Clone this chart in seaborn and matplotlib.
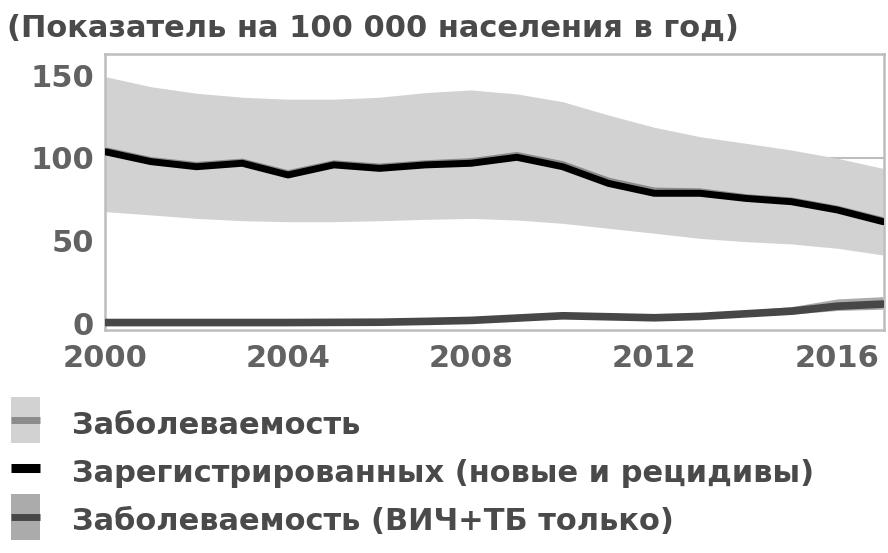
import numpy as np
import pandas as pd
import matplotlib
matplotlib.use("Agg")
import matplotlib.pyplot as plt
from matplotlib.patches import Rectangle
from matplotlib.lines import Line2D
import seaborn as sns

# Rates per 100 000 population per year
years = list(range(2000, 2018))
incidence = [104.5, 98.5, 95.5, 97.5, 90.5, 96.5, 94.5, 96.5, 97.8, 101.5, 96.0, 86.0, 80.0, 79.5, 76.0, 74.0, 69.0, 62.0]
incidence_low = [67.5, 65.5, 63.4, 62.0, 61.4, 61.4, 62.0, 62.8, 63.4, 62.4, 60.4, 57.4, 54.4, 51.3, 49.3, 47.9, 45.3, 41.2]
incidence_high = [149.3, 143.2, 139.2, 136.8, 135.6, 135.6, 136.8, 139.6, 141.2, 138.8, 134.1, 126.0, 118.6, 112.9, 108.9, 104.8, 99.8, 93.7]
notified = [103.8, 97.8, 94.7, 96.8, 89.7, 95.8, 93.7, 95.8, 96.8, 100.4, 94.7, 84.6, 78.6, 78.6, 75.5, 73.5, 68.5, 61.4]
hiv_tb = [0.3, 0.3, 0.3, 0.3, 0.3, 0.4, 0.5, 1.0, 1.6, 3.0, 4.4, 3.8, 3.2, 4.0, 5.6, 7.2, 10.2, 11.5]
hiv_tb_low = [0.1, 0.1, 0.1, 0.1, 0.1, 0.2, 0.3, 0.7, 1.1, 2.2, 3.3, 2.9, 2.4, 3.0, 4.2, 5.4, 7.6, 8.4]
hiv_tb_high = [0.5, 0.5, 0.5, 0.5, 0.5, 0.6, 0.8, 1.4, 2.2, 4.0, 5.8, 5.0, 4.3, 5.4, 7.6, 10.0, 14.6, 16.0]

y_ticks = [0, 50, 100, 150]
x_ticks = [2000, 2004, 2008, 2012, 2016]

title = "(Показатель на 100 000 населения в год)"
legend_labels = [
    "Заболеваемость",
    "Зарегистрированных (новые и рецидивы)",
    "Заболеваемость (ВИЧ+ТБ только)",
]

band_color = "#d2d2d2"
inc_color = "#8c8c8c"
notif_color = "#000000"
hiv_band_color = "#ababab"
hiv_color = "#474747"
text_color = "#4a4a4a"
tick_color = "#626262"
frame_color = "#bdbdbd"

sns.set_theme(style="white")
plt.rcParams["font.family"] = ["DejaVu Sans"]

df = pd.DataFrame({
    "year": years,
    "incidence": incidence,
    "inc_low": incidence_low,
    "inc_high": incidence_high,
    "notified": notified,
    "hiv": hiv_tb,
    "hiv_low": hiv_tb_low,
    "hiv_high": hiv_tb_high,
})

fig = plt.figure(figsize=(8.88, 5.53), dpi=100)
ax = fig.add_axes([0.1182, 0.4033, 0.8773, 0.4991])

ax.axhline(100, color=frame_color, lw=1.5, zorder=0)
ax.fill_between(df["year"], df["inc_low"], df["inc_high"], color=band_color, lw=0, zorder=1)
sns.lineplot(data=df, x="year", y="incidence", ax=ax, color=inc_color, lw=5, zorder=2)
sns.lineplot(data=df, x="year", y="notified", ax=ax, color=notif_color, lw=5, zorder=3)
ax.fill_between(df["year"], df["hiv_low"], df["hiv_high"], color=hiv_band_color, lw=0, zorder=2)
sns.lineplot(data=df, x="year", y="hiv", ax=ax, color=hiv_color, lw=5.5, zorder=3)

ax.set_xlim(2000, 2017.02)
ax.set_ylim(-4.2, 163)
ax.set_xticks(x_ticks)
ax.set_yticks(y_ticks)
ax.set_xlabel("")
ax.set_ylabel("")
ax.tick_params(axis="both", length=0, colors=tick_color)
ax.tick_params(axis="x", pad=10)
ax.tick_params(axis="y", pad=8)
for lbl in ax.get_xticklabels() + ax.get_yticklabels():
    lbl.set_fontweight("bold")
    lbl.set_fontsize(22)
for s in ax.spines.values():
    s.set_visible(True)
    s.set_color(frame_color)
    s.set_linewidth(1.8)

fig.text(0.008, 0.948, title, fontsize=22, fontweight="bold", color=text_color,
         ha="left", va="center")

# Legend drawn in figure pixels
def fx(px):
    return px / 888

def fy(py):
    return 1 - py / 553

entries = [
    (band_color, inc_color, 420, 426),
    (None, notif_color, 468, 473),
    (hiv_band_color, hiv_color, 517, 521),
]
for (box, line, ly, ty), label in zip(entries, legend_labels):
    if box is not None:
        fig.add_artist(Rectangle((fx(11), fy(ly + 23)), fx(29), 46 / 553,
                                 transform=fig.transFigure, color=box, lw=0))
    fig.add_artist(Line2D([fx(11), fx(40)], [fy(ly), fy(ly)], transform=fig.transFigure,
                          color=line, lw=5 if box else 6.5, solid_capstyle="butt"))
    fig.text(fx(72), fy(ty), label, fontsize=22, fontweight="bold", color=text_color,
             ha="left", va="center")

fig.savefig("out.png", dpi=100)
